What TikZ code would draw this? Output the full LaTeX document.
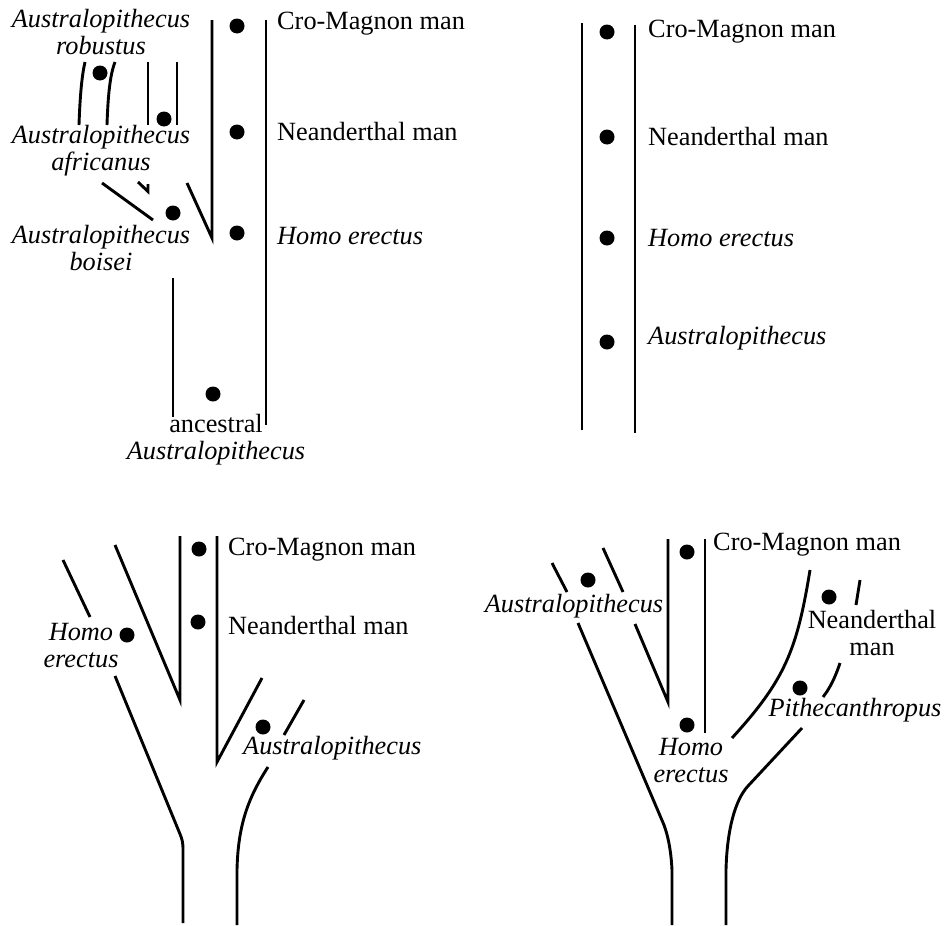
\documentclass[tikz,border=0pt]{standalone}
\usepackage{fontspec}
\setmainfont{Liberation Serif}
\begin{document}
\begin{tikzpicture}[x=1pt,y=-1pt,
  lin/.style={line width=2.9pt},
  dot/.style={circle, fill=black, draw=none, inner sep=0pt, minimum size=15pt},
  lab/.style={inner sep=0pt, font=\fontsize{26.3}{27}\selectfont},
  ilab/.style={inner sep=0pt, font=\fontsize{26.3}{27}\selectfont\itshape},
  ]
\useasboundingbox (0,0) rectangle (945,926);

% ---------- Panel 1 (top left) ----------
\node[ilab, align=center] (p1rob) at (101,32) {Australopithecus\\robustus};
\node[ilab, align=center] (p1afr) at (101,151) {Australopithecus\\africanus};
\node[ilab, align=center] (p1boi) at (101,248) {Australopithecus\\boisei};
\node[lab, align=center] (p1anc) at (216,440) {ancestral\\\textit{Australopithecus}};
\node[lab, anchor=west] (p1cro) at (277,24) {Cro-Magnon man};
\node[lab, anchor=west] (p1nea) at (277,132) {Neanderthal man};
\node[ilab, anchor=west] (p1hom) at (277,236) {Homo erectus};

\draw[lin] (79,125) .. controls (80,95) and (82,75) .. (85,62);
\draw[lin] (107,125) .. controls (108,95) and (110,75) .. (115,62);
\draw[lin] (148,62) -- (148,125);
\draw[lin] (177,62) -- (177,125);
\draw[lin] (102,183) -- (153,220);
\draw[lin] (138,182) -- (148,191.5) -- (148,184);
\draw[lin] (187,183) -- (212,238) -- (212,20);
\draw[lin] (266,20) -- (266,425);
\draw[lin] (173,278) -- (173,417);

\node[dot] (p1d1) at (100,73) {};
\node[dot] (p1d2) at (164,119) {};
\node[dot] (p1d3) at (173,213) {};
\node[dot] (p1d4) at (237,26) {};
\node[dot] (p1d5) at (237,132) {};
\node[dot] (p1d6) at (237,233) {};
\node[dot] (p1d7) at (213,394) {};

% ---------- Panel 2 (top right) ----------
\draw[lin] (582,23) -- (582,430);
\draw[lin] (635,25) -- (635,433);
\node[dot] (p2d1) at (607,32) {};
\node[dot] (p2d2) at (607,137) {};
\node[dot] (p2d3) at (607,238) {};
\node[dot] (p2d4) at (607,342) {};
\node[lab, anchor=west] (p2cro) at (648,32) {Cro-Magnon man};
\node[lab, anchor=west] (p2nea) at (648,137) {Neanderthal man};
\node[ilab, anchor=west] (p2hom) at (648,238) {Homo erectus};
\node[ilab, anchor=west] (p2aus) at (648,338) {Australopithecus};

% ---------- Panel 3 (bottom left) ----------
\draw[lin] (63,560) -- (90,617);
\draw[lin] (115,545) -- (180,700) -- (180,536);
\draw[lin] (217,536) -- (217,762) -- (262,678);
\draw[lin] (115,676) -- (180,834) .. controls (182,839) and (183,842) .. (183,850) -- (183,923);
\draw[lin] (268,767) .. controls (248,798) and (238,825) .. (237,870) -- (237,925);
\draw[lin] (284,735) -- (304,700);
\node[dot] (p3d1) at (127,635) {};
\node[dot] (p3d2) at (199,549) {};
\node[dot] (p3d3) at (198,622) {};
\node[dot] (p3d4) at (263,727) {};
\node[ilab, align=center] (p3hom) at (81,646) {Homo\\erectus};
\node[lab, anchor=west] (p3cro) at (228,550) {Cro-Magnon man};
\node[lab, anchor=west] (p3nea) at (228,625) {Neanderthal man};
\node[ilab, anchor=west] (p3aus) at (243,748) {Australopithecus};

% ---------- Panel 4 (bottom right) ----------
\draw[lin] (552,563) -- (567,592);
\draw[lin] (603,548) -- (623,592);
\draw[lin] (578,623) -- (664,825) .. controls (668,836) and (671,850) .. (672,870) -- (672,925);
\draw[lin] (635,624) -- (668,702) -- (668,539);
\draw[lin] (705,539) -- (705,733);
\draw[lin] (810,570) .. controls (797,650) and (785,680) .. (732,738);
\draw[lin] (860,580) -- (856,605);
\draw[lin] (840,663) .. controls (835,678) and (830,688) .. (823,697);
\draw[lin] (802,728) -- (748,786) .. controls (735,800) and (727,830) .. (726,870) -- (726,925);
\node[dot] (p4d1) at (588,580) {};
\node[dot] (p4d2) at (687,552) {};
\node[dot] (p4d3) at (687,725) {};
\node[dot] (p4d4) at (829,597) {};
\node[dot] (p4d5) at (800,688) {};
\node[ilab] (p4aus) at (574,606) {Australopithecus};
\node[ilab, align=center] (p4hom) at (691,761) {Homo\\erectus};
\node[lab, anchor=west] (p4cro) at (713,545) {Cro-Magnon man};
\node[lab, align=center] (p4nea) at (872,633) {Neanderthal\\man};
\node[ilab] (p4pit) at (855,710) {Pithecanthropus};
\end{tikzpicture}
\end{document}
